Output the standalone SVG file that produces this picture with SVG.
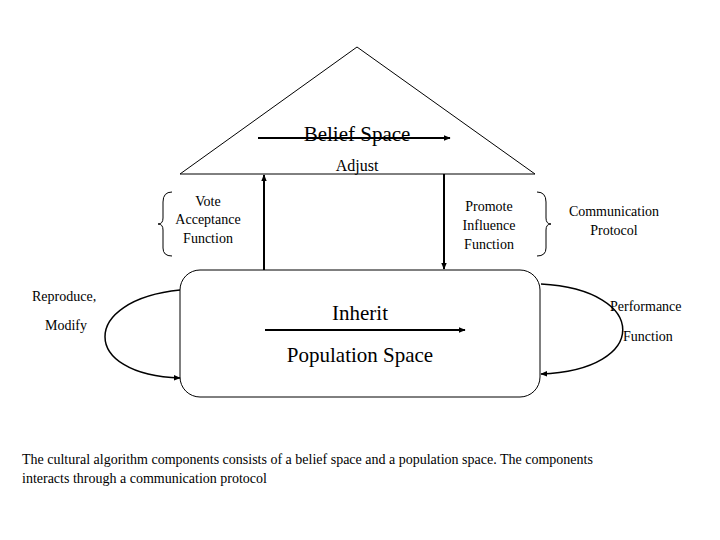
<svg xmlns="http://www.w3.org/2000/svg" width="720" height="540" viewBox="0 0 720 540">
<defs><marker id="ah" viewBox="0 0 10 10" refX="9" refY="5" markerWidth="7" markerHeight="7" orient="auto" markerUnits="userSpaceOnUse"><path d="M0,1 L10,5 L0,9 z" fill="#000"/></marker></defs>
<style>text{font-family:"Liberation Serif",serif;fill:#000}.s{font-size:14px}.m{font-size:16px}.l{font-size:21px}.ln{stroke:#000;fill:none}</style>
<rect width="720" height="540" fill="#fff"/>
<g id="belief"><polygon points="357,47 180,174 535,174" fill="#fff" stroke="#000"/><text class="l" x="357" y="141" text-anchor="middle" font-size="19">Belief Space</text><text class="m" x="357" y="171" text-anchor="middle" font-size="18">Adjust</text></g>
<g id="population"><rect x="180" y="270" width="360" height="127" rx="20" fill="#fff" stroke="#000"/><text class="l" x="360" y="320" text-anchor="middle">Inherit</text><text class="l" x="360" y="362" text-anchor="middle">Population Space</text></g>
<g id="vote"><path class="ln" d="M172,192 Q163,192 163,202 L163,218 Q163,224 158,224 Q163,224 163,230 L163,248 Q163,256 172,256"/><text class="s" x="208" y="206" text-anchor="middle">Vote</text><text class="s" x="208" y="224" text-anchor="middle">Acceptance</text><text class="s" x="208" y="243" text-anchor="middle">Function</text></g>
<g id="promote"><path class="ln" d="M537,192 Q546,192 546,202 L546,218 Q546,224 551,224 Q546,224 546,230 L546,248 Q546,256 537,256"/><text class="s" x="489" y="211" text-anchor="middle">Promote</text><text class="s" x="489" y="230" text-anchor="middle">Influence</text><text class="s" x="489" y="249" text-anchor="middle">Function</text></g>
<g id="comm"><text class="s" x="614" y="216" text-anchor="middle">Communication</text><text class="s" x="614" y="235" text-anchor="middle">Protocol</text></g>
<g id="repro"><text class="s" x="32" y="301">Reproduce,</text><text class="s" x="45" y="330">Modify</text></g>
<g id="perf"><text class="s" x="610" y="311">Performance</text><text class="s" x="623" y="341">Function</text></g>
<g id="connectors">
<line class="ln" x1="258" y1="138" x2="450" y2="138" stroke-width="2" marker-end="url(#ah)"/>
<line class="ln" x1="264" y1="270" x2="264" y2="175" stroke-width="2" marker-end="url(#ah)"/>
<line class="ln" x1="444" y1="174" x2="444" y2="269" stroke-width="2" marker-end="url(#ah)"/>
<line class="ln" x1="265" y1="330" x2="465" y2="330" stroke-width="2" marker-end="url(#ah)"/>
<path class="ln" d="M180,290 C80,300 80,375 180,378" stroke-width="1.5" marker-end="url(#ah)"/>
<path class="ln" d="M541,284 C650,290 650,370 541,374" stroke-width="1.5" marker-end="url(#ah)"/>
</g>
<g id="caption"><text class="s" x="22" y="464" font-size="15">The cultural algorithm components consists of a belief space and a population space. The components</text><text class="s" x="22" y="483" font-size="15">interacts through a communication protocol</text></g>
</svg>
